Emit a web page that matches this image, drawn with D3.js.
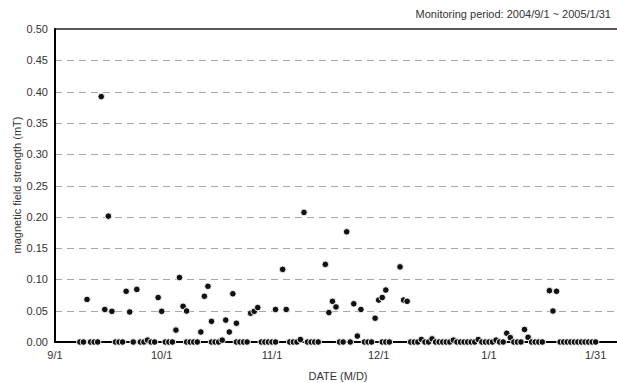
<!DOCTYPE html>
<html>
<head>
<meta charset="utf-8">
<script src="https://cdn.jsdelivr.net/npm/d3@7"></script>
<style>
  body { margin: 0; background: #fff; }
  svg { display: block; font-family: "Liberation Sans", Arial, sans-serif; }
</style>
</head>
<body>
<svg id="chart" width="617" height="383"></svg>
<script>
// days counted from 2004/9/1
const zeroDays = [7, 8, 10, 11, 12, 17, 18, 19, 22, 24, 25, 27, 28, 31, 32, 33,
  37, 38, 39, 40, 44, 45, 46, 51, 52, 53, 54, 58, 59, 60, 61, 62, 66, 67, 68,
  71, 72, 73, 74, 80, 81, 83, 87, 88, 89, 92, 93, 94,
  100, 101, 102, 104, 105, 107, 108, 109, 110, 111, 113, 114, 115, 116, 117, 118,
  120, 121, 122, 123, 125, 126, 129, 130, 131, 134, 135, 136, 137,
  142, 143, 144, 145, 146, 147, 148, 149, 150, 151, 152]

const measuredDays = [9, 13, 14, 15, 16, 20, 21, 23, 26, 29, 30, 34, 35, 36, 37,
  41, 42, 43, 44, 47, 48, 49, 50, 51, 55, 56, 57, 62, 64, 65, 69, 70, 76, 77, 78, 79,
  82, 84, 85, 86, 90, 91, 92, 93, 97, 98, 99, 103, 106, 112, 119, 124,
  127, 128, 132, 133, 139, 140, 141]
const measuredValues = [0.068, 0.392, 0.052, 0.201, 0.049, 0.081, 0.048, 0.084, 0.003, 0.071, 0.049, 0.019, 0.103, 0.057, 0.0495,
  0.016, 0.073, 0.089, 0.033, 0.003, 0.035, 0.016, 0.077, 0.030, 0.046, 0.049, 0.055, 0.052, 0.116, 0.052, 0.004, 0.207, 0.124, 0.047, 0.065, 0.056,
  0.176, 0.061, 0.0095, 0.052, 0.038, 0.067, 0.071, 0.083, 0.120, 0.067, 0.065, 0.004, 0.005, 0.003, 0.004, 0.003,
  0.014, 0.007, 0.020, 0.0075, 0.082, 0.0495, 0.081]

const xTickDates = ["2004-09-01", "2004-10-01", "2004-11-01", "2004-12-01", "2005-01-01", "2005-01-31"]
const yTicks = [0, 0.05, 0.1, 0.15, 0.2, 0.25, 0.3, 0.35, 0.4, 0.45, 0.5]

const parse = d3.timeParse("%Y-%m-%d")
const start = parse("2004-09-01")

const points = zeroDays.map(d => ({ day: d, value: 0 }))
  .concat(measuredDays.map((d, i) => ({ day: d, value: measuredValues[i] })))
  .sort((a, b) => a.day - b.day)
  .map(p => ({ date: d3.timeDay.offset(start, p.day), value: p.value }))

const MARGIN = { TOP: 29, LEFT: 55, BOTTOM: 342, RIGHT: 617 }

const svg = d3.select("#chart")

const x = d3.scaleTime()
  .domain([start, parse("2005-02-06")])
  .range([MARGIN.LEFT, MARGIN.RIGHT])

const y = d3.scaleLinear()
  .domain([0, 0.5])
  .range([MARGIN.BOTTOM, MARGIN.TOP])

// dashed grid
svg.append("g")
  .selectAll("line")
  .data(yTicks.filter(t => t > 0 && t < 0.5))
  .join("line")
  .attr("x1", MARGIN.LEFT)
  .attr("x2", MARGIN.RIGHT)
  .attr("y1", d => Math.round(y(d)) + 0.5)
  .attr("y2", d => Math.round(y(d)) + 0.5)
  .attr("stroke", "#a8a8a8")
  .attr("stroke-width", 1)
  .attr("stroke-dasharray", "7,5")

// frame
svg.append("line")
  .attr("x1", MARGIN.LEFT).attr("x2", MARGIN.RIGHT)
  .attr("y1", y(0.5)).attr("y2", y(0.5))
  .attr("stroke", "#222").attr("stroke-width", 1.5)

svg.append("line")
  .attr("x1", MARGIN.LEFT).attr("x2", MARGIN.RIGHT)
  .attr("y1", y(0)).attr("y2", y(0))
  .attr("stroke", "#000").attr("stroke-width", 2)

svg.append("line")
  .attr("x1", MARGIN.LEFT).attr("x2", MARGIN.LEFT)
  .attr("y1", y(0.5) - 0.75).attr("y2", y(0) + 1)
  .attr("stroke", "#000").attr("stroke-width", 2)

// y labels
svg.append("g")
  .selectAll("text")
  .data(yTicks)
  .join("text")
  .attr("x", 48)
  .attr("y", d => y(d) + 4)
  .attr("text-anchor", "end")
  .attr("font-size", 11)
  .attr("fill", "#333")
  .text(d => d3.format(".2f")(d))

// x labels
svg.append("g")
  .selectAll("text")
  .data(xTickDates.map(parse))
  .join("text")
  .attr("x", d => x(d))
  .attr("y", 359)
  .attr("text-anchor", "middle")
  .attr("font-size", 11)
  .attr("fill", "#333")
  .text(d => d3.timeFormat("%-m/%-d")(d))

// points
svg.append("g")
  .selectAll("circle")
  .data(points)
  .join("circle")
  .attr("cx", d => x(d.date))
  .attr("cy", d => y(d.value))
  .attr("r", 3.3)
  .attr("fill", "#111")
  .attr("stroke", "#fff")
  .attr("stroke-width", 0.9)

// titles
svg.append("text")
  .attr("x", 611)
  .attr("y", 18)
  .attr("text-anchor", "end")
  .attr("font-size", 11)
  .attr("fill", "#333")
  .text("Monitoring period: 2004/9/1 ~ 2005/1/31")

svg.append("text")
  .attr("x", 338)
  .attr("y", 380)
  .attr("text-anchor", "middle")
  .attr("font-size", 11)
  .attr("fill", "#333")
  .text("DATE (M/D)")

svg.append("text")
  .attr("transform", "translate(21,185) rotate(-90)")
  .attr("text-anchor", "middle")
  .attr("font-size", 11)
  .attr("fill", "#333")
  .text("magnetic field strength (mT)")
</script>
</body>
</html>
